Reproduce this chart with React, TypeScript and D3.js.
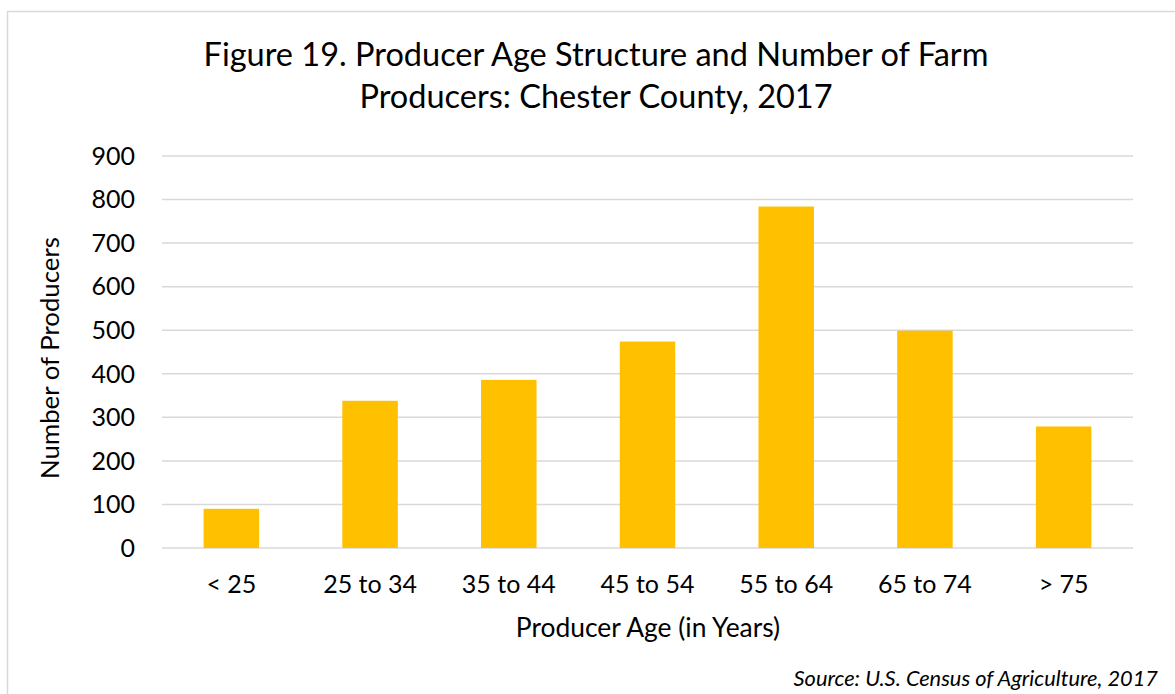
import * as d3 from 'd3';
import React, { useEffect } from 'react';

// age groups and producer counts
const ageGroups = ['< 25', '25 to 34', '35 to 44', '45 to 54', '55 to 64', '65 to 74', '> 75'];
const producers = [90, 338, 386, 474, 784, 499, 279];
const yTicks = [0, 100, 200, 300, 400, 500, 600, 700, 800, 900];
const titleLines = ['Figure 19. Producer Age Structure and Number of Farm', 'Producers: Chester County, 2017'];

const width = 1175;
const height = 694;
const margin = { top: 156, right: 42, bottom: 146, left: 162 };
const font = 'Lato, "Open Sans", sans-serif';

const App: React.FC = () => {
  useEffect(() => {
    document.body.style.margin = '0';
  }, []);

  const x = d3
    .scaleBand<string>()
    .domain(ageGroups)
    .range([margin.left, width - margin.right])
    .paddingInner(0.6)
    .paddingOuter(0.3);

  const y = d3
    .scaleLinear()
    .domain([0, 900])
    .range([height - margin.bottom, margin.top]);

  return (
    <svg width={width} height={height} style={{ display: 'block' }} fontFamily={font}>
      <rect x={0} y={0} width={width} height={height} fill="#fff" />
      {/* chart frame, cut off at the right and bottom */}
      <rect x={7.5} y={11.5} width={width + 20} height={height + 20} fill="none" stroke="#d9d9d9" strokeWidth={1.5} />

      {titleLines.map((line, i) => (
        <text key={line} x={596} y={66 + i * 42} textAnchor="middle" fontSize={32.5} fill="#000">
          {line}
        </text>
      ))}

      {/* gridlines */}
      {yTicks.map((t) => (
        <line
          key={`g${t}`}
          x1={margin.left}
          x2={width - margin.right}
          y1={y(t)}
          y2={y(t)}
          stroke="#d9d9d9"
          strokeWidth={1.5}
        />
      ))}

      {yTicks.map((t) => (
        <text key={`t${t}`} x={135} y={y(t)} dy="0.35em" textAnchor="end" fontSize={25} fill="#000">
          {t}
        </text>
      ))}

      {ageGroups.map((g, i) => (
        <rect
          key={g}
          x={x(g)}
          y={y(producers[i])}
          width={x.bandwidth()}
          height={y(0) - y(producers[i])}
          fill="#ffc000"
        />
      ))}

      {ageGroups.map((g) => (
        <text
          key={`l${g}`}
          x={(x(g) ?? 0) + x.bandwidth() / 2}
          y={584}
          dy="0.35em"
          textAnchor="middle"
          fontSize={25}
          fill="#000"
        >
          {g}
        </text>
      ))}

      <text x={648} y={628} dy="0.35em" textAnchor="middle" fontSize={26.4} fill="#000">
        Producer Age (in Years)
      </text>

      <text
        transform={`translate(50,${358}) rotate(-90)`}
        textAnchor="middle"
        dy="0.35em"
        fontSize={25.8}
        fill="#000"
      >
        Number of Producers
      </text>

      <text x={1158} y={686} textAnchor="end" fontSize={21.8} fontStyle="italic" fill="#000">
        Source: U.S. Census of Agriculture, 2017
      </text>
    </svg>
  );
};

export default App;
